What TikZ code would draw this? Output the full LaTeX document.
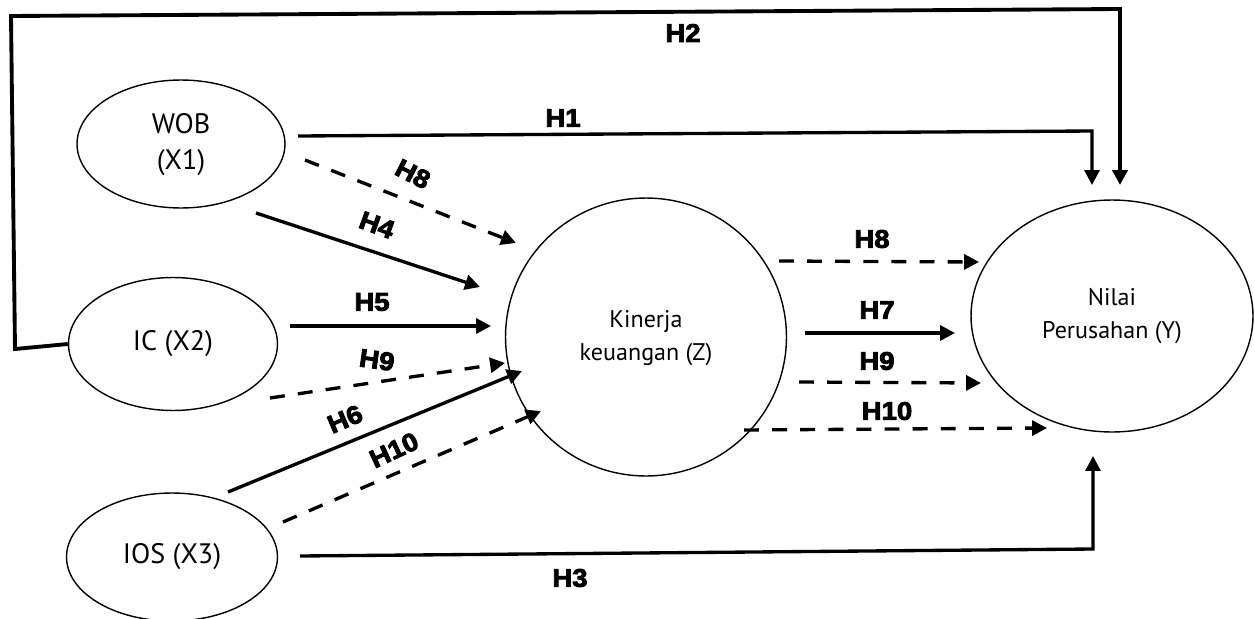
\documentclass[tikz,border=0pt]{standalone}
\usepackage{fontspec}
\setmainfont{PT Sans}
\newfontfamily\hfont[FakeBold=3.5,FakeStretch=1.08]{Liberation Sans Bold}
\usetikzlibrary{shapes.geometric,arrows.meta}

\tikzset{
  var/.style={draw, ellipse, line width=0.8pt, inner sep=0pt, align=center},
  bigtext/.style={font=\fontsize{16}{20.4}\selectfont},
  smalltext/.style={font=\fontsize{13.7}{18.7}\selectfont},
  link/.style={line width=1.9pt, -{Triangle[length=8.5pt,width=8.5pt]}},
  mlink/.style={link, dash pattern=on 8.5pt off 7.5pt},
  loop/.style={line width=2.2pt, -{Triangle[length=8.5pt,width=8.5pt]}},
  hlab/.style={font=\hfont\fontsize{14.5}{16}\selectfont, inner sep=0pt}
}

\begin{document}
\begin{tikzpicture}[x=0.02cm, y=-0.02cm]
\useasboundingbox (0,0) rectangle (1255,619);

% latent variables
\node[var, bigtext, minimum width=4.16cm, minimum height=2.56cm] (wob) at (181,144) {\raisebox{-3pt}{\begin{tabular}{@{}c@{}}WOB\\(X1)\end{tabular}}};
\node[var, bigtext, minimum width=4.18cm, minimum height=2.66cm] (ic) at (173,344) {IC (X2)};
\node[var, bigtext, minimum width=4.22cm, minimum height=2.56cm] (ios) at (172,557) {IOS (X3)};
\node[var, smalltext, minimum width=5.62cm, minimum height=5.56cm] (kin) at (646,337) {\raisebox{5pt}{\begin{tabular}{@{}c@{}}Kinerja\\keuangan (Z)\end{tabular}}};
\node[var, smalltext, minimum width=5.64cm, minimum height=4.64cm] (nil) at (1112,316) {Nilai\\Perusahan (Y)};

% path end points
\coordinate (h2a) at (15,349);
\coordinate (h2b) at (11,16);
\coordinate (h2c) at (1120,9);
\coordinate (h2d) at (1120,185);
\coordinate (h1a) at (298,136);
\coordinate (h1b) at (1092,131);
\coordinate (h1c) at (1092,185);
\coordinate (h3a) at (300,556);
\coordinate (h3b) at (1093,549);
\coordinate (h3c) at (1093,456);
\coordinate (h8a) at (305,160);
\coordinate (h8b) at (516,243);
\coordinate (h4a) at (256,213);
\coordinate (h4b) at (480,287);
\coordinate (h5a) at (290,326);
\coordinate (h5b) at (491,326);
\coordinate (h9a) at (270,398);
\coordinate (h9b) at (505,363);
\coordinate (h6a) at (228,492);
\coordinate (h6b) at (522,371);
\coordinate (h10a) at (283,522);
\coordinate (h10b) at (541,411);
\coordinate (r8a) at (779,261);
\coordinate (r8b) at (979,262);
\coordinate (r7a) at (805,333);
\coordinate (r7b) at (955,333);
\coordinate (r9a) at (799,382);
\coordinate (r9b) at (981,383);
\coordinate (r10a) at (744,430);
\coordinate (r10b) at (1047,428);

% direct effects on firm value
\draw[loop] (ic.west) -- (h2a) -- (h2b) -- (h2c) -- (h2d);
\draw[link] (h1a) -- (h1b) -- (h1c);
\draw[link] (h3a) -- (h3b) -- (h3c);

% effects on financial performance
\draw[mlink] (h8a) -- (h8b);
\draw[link] (h4a) -- (h4b);
\draw[link] (h5a) -- (h5b);
\draw[mlink] (h9a) -- (h9b);
\draw[link] (h6a) -- (h6b);
\draw[mlink] (h10a) -- (h10b);

% financial performance to firm value
\draw[mlink] (r8a) -- (r8b);
\draw[link] (r7a) -- (r7b);
\draw[mlink] (r9a) -- (r9b);
\draw[mlink] (r10a) -- (r10b);

% hypothesis labels
\node[hlab] (l2) at (683,33) {H2};
\node[hlab] (l1) at (563,118) {H1};
\node[hlab, rotate=-27] (l8) at (413,174) {H8};
\node[hlab, rotate=-20] (l4) at (377,225) {H4};
\node[hlab] (l5) at (372,302) {H5};
\node[hlab, rotate=-8] (l9) at (377,360) {H9};
\node[hlab, rotate=23] (l6) at (345,419) {H6};
\node[hlab, rotate=25] (l10) at (394,450) {H10};
\node[hlab] (l3) at (570,578) {H3};
\node[hlab] (r8) at (872,239) {H8};
\node[hlab] (r7) at (877,310) {H7};
\node[hlab] (r9) at (877,361) {H9};
\node[hlab] (r10) at (887,411) {H10};
\end{tikzpicture}
\end{document}
